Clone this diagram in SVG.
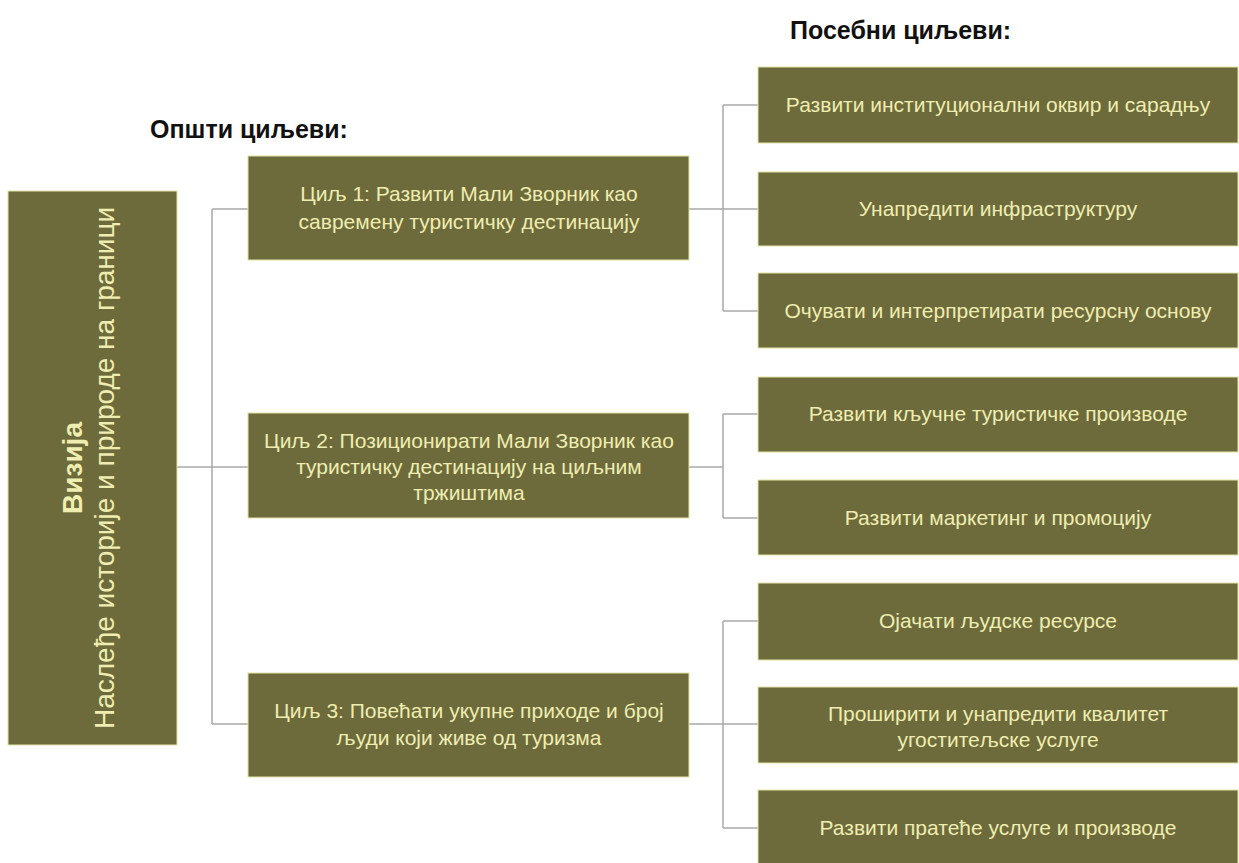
<svg xmlns="http://www.w3.org/2000/svg" width="1239" height="863" viewBox="0 0 1239 863">
<style>
.box{fill:#6d6b3c;stroke:#e4e3a6;stroke-width:1}
.t{font-family:"Liberation Sans",Arial,sans-serif;font-size:21px;fill:#efedb0;text-anchor:middle}
.h{font-family:"Liberation Sans",Arial,sans-serif;font-size:25px;font-weight:bold;fill:#111}
.v{font-family:"Liberation Sans",Arial,sans-serif;font-size:28px;fill:#efedb0;text-anchor:middle}
.c{fill:none;stroke:#a9a9a9;stroke-width:1.5}
</style>
<rect width="1239" height="863" fill="#fff"/>
<text class="h" x="790" y="39">Посебни циљеви:</text>
<text class="h" x="150" y="138">Општи циљеви:</text>
<g id="connectors">
<path class="c" d="M177 467H212M212 209V724M212 209H248M212 467H248M212 724H248"/>
<path class="c" d="M689 209H723M723 105V311M723 105H758M723 209H758M723 311H758"/>
<path class="c" d="M689 467H723M723 414V518M723 414H758M723 518H758"/>
<path class="c" d="M689 724H723M723 621V828M723 621H758M723 724H758M723 828H758"/>
</g>
<g id="vision">
<rect class="box" x="8" y="191" width="169" height="554"/>
<text class="v" transform="translate(82 468) rotate(-90)" font-weight="bold">Визија</text>
<text class="v" transform="translate(114 468) rotate(-90)">Наслеђе историје и природе на граници</text>
</g>
<g id="goal1">
<rect class="box" x="248" y="156" width="441" height="104"/>
<text class="t" x="469" y="201">Циљ 1: Развити Мали Зворник као</text>
<text class="t" x="469" y="229">савремену туристичку дестинацију</text>
</g>
<g id="goal2">
<rect class="box" x="248" y="413" width="441" height="105"/>
<text class="t" x="469" y="448">Циљ 2: Позиционирати Мали Зворник као</text>
<text class="t" x="469" y="474">туристичку дестинацију на циљним</text>
<text class="t" x="469" y="500">тржиштима</text>
</g>
<g id="goal3">
<rect class="box" x="248" y="673" width="441" height="104"/>
<text class="t" x="469" y="718">Циљ 3: Повећати укупне приходе и број</text>
<text class="t" x="469" y="745">људи који живе од туризма</text>
</g>
<g id="s1"><rect class="box" x="758" y="67" width="480" height="76"/><text class="t" x="998" y="112">Развити институционални оквир и сарадњу</text></g>
<g id="s2"><rect class="box" x="758" y="172" width="480" height="74"/><text class="t" x="998" y="216">Унапредити инфраструктуру</text></g>
<g id="s3"><rect class="box" x="758" y="273" width="480" height="75"/><text class="t" x="998" y="318">Очувати и интерпретирати ресурсну основу</text></g>
<g id="s4"><rect class="box" x="758" y="377" width="480" height="75"/><text class="t" x="998" y="421">Развити кључне туристичке производе</text></g>
<g id="s5"><rect class="box" x="758" y="480" width="480" height="75"/><text class="t" x="998" y="525">Развити маркетинг и промоцију</text></g>
<g id="s6"><rect class="box" x="758" y="583" width="480" height="77"/><text class="t" x="998" y="628">Ојачати људске ресурсе</text></g>
<g id="s7"><rect class="box" x="758" y="687" width="480" height="76"/><text class="t" x="998" y="721">Проширити и унапредити квалитет</text><text class="t" x="998" y="747">угоститељске услуге</text></g>
<g id="s8"><rect class="box" x="758" y="790" width="480" height="76"/><text class="t" x="998" y="835">Развити пратеће услуге и производе</text></g>
</svg>
